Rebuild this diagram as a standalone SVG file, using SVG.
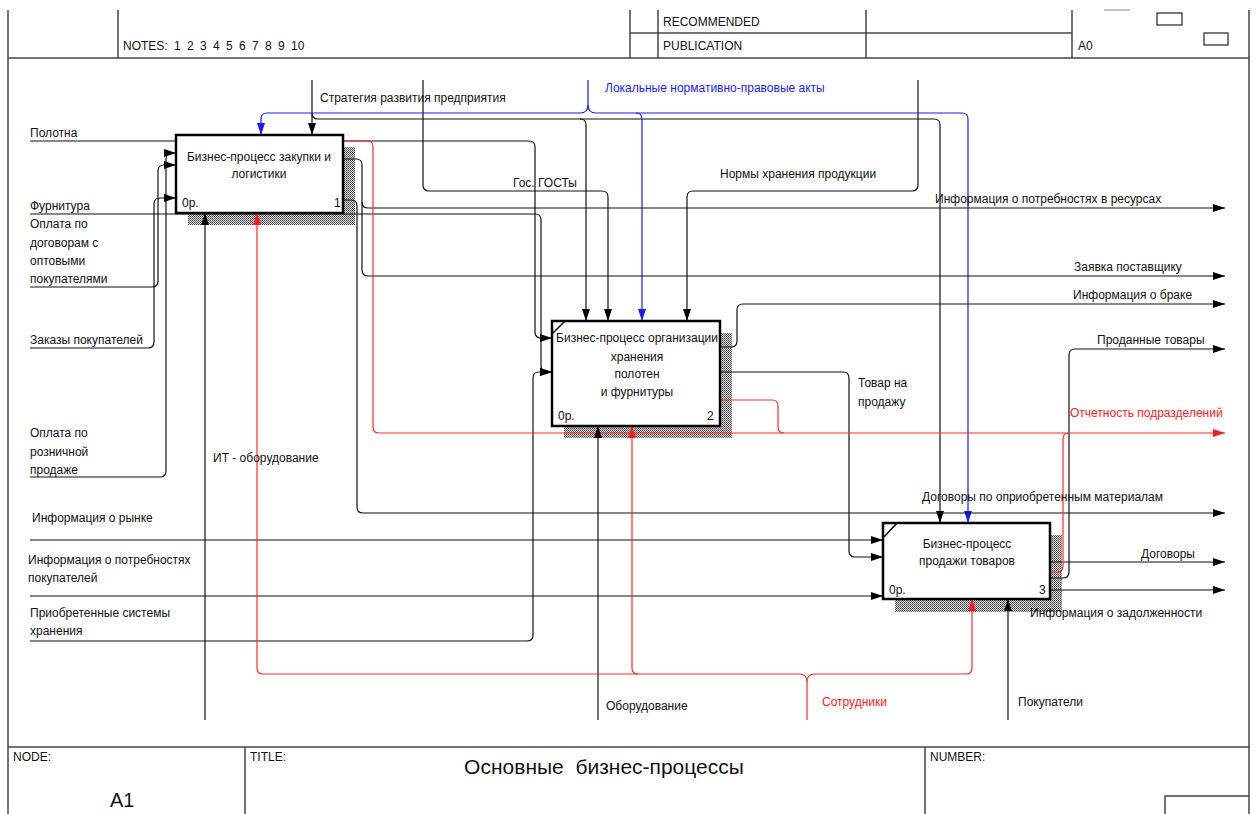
<svg xmlns="http://www.w3.org/2000/svg" width="1258" height="814" viewBox="0 0 1258 814">
<style>
.t{font-family:"Liberation Sans",Arial,sans-serif;font-size:12px;fill:#111}
.tb{fill:#1a1aff}
.tr{fill:#ff2020}
.c{fill:none;stroke:#111;stroke-width:1.2}
.cb{fill:none;stroke:#1a1aff;stroke-width:1.2}
.cr{fill:none;stroke:#ff2a2a;stroke-width:1.2}
.f{fill:none;stroke:#444;stroke-width:1.5}
.box{fill:#fff;stroke:#000;stroke-width:2.5}
.sh{fill:url(#hatch)}
.mid{text-anchor:middle}
</style>
<defs>
<pattern id="hatch" width="2" height="2" patternUnits="userSpaceOnUse"><rect width="2" height="2" fill="#dcdcdc"/><rect x="0" y="0" width="1" height="1" fill="#3c3c3c"/><rect x="1" y="1" width="1" height="1" fill="#6a6a6a"/></pattern>
<marker id="ak" viewBox="0 0 12 8" refX="12" refY="4" markerWidth="12" markerHeight="8" markerUnits="userSpaceOnUse" orient="auto"><path d="M0,0 L12,4 L0,8 z" fill="#000"/></marker>
<marker id="abl" viewBox="0 0 12 8" refX="12" refY="4" markerWidth="12" markerHeight="8" markerUnits="userSpaceOnUse" orient="auto"><path d="M0,0 L12,4 L0,8 z" fill="#1a1aff"/></marker>
<marker id="ar" viewBox="0 0 12 8" refX="12" refY="4" markerWidth="12" markerHeight="8" markerUnits="userSpaceOnUse" orient="auto"><path d="M0,0 L12,4 L0,8 z" fill="#ff1a1a"/></marker>
</defs>
<rect width="1258" height="814" fill="#fff"/>
<g id="frame">
<line class="f" x1="8" y1="10" x2="8" y2="814"/>
<line class="f" x1="1249" y1="10" x2="1249" y2="814"/>
<line class="f" x1="118" y1="10" x2="118" y2="58"/>
<line class="f" x1="630" y1="10" x2="630" y2="58"/>
<line class="f" x1="658" y1="10" x2="658" y2="58"/>
<line class="f" x1="866" y1="10" x2="866" y2="58"/>
<line class="f" x1="1072" y1="10" x2="1072" y2="58"/>
<line class="f" x1="630" y1="33" x2="1072" y2="33"/>
<line class="f" x1="8" y1="58" x2="1249" y2="58"/>
<line x1="1104" y1="10" x2="1130" y2="10" stroke="#888" stroke-width="1"/>
<rect x="1157" y="13" width="25" height="12" fill="none" stroke="#222" stroke-width="1.2"/>
<rect x="1204" y="33" width="24" height="12" fill="none" stroke="#222" stroke-width="1.2"/>
<text class="t" x="123" y="50" word-spacing="3">NOTES: 1 2 3 4 5 6 7 8 9 10</text>
<text class="t" x="663" y="26">RECOMMENDED</text>
<text class="t" x="663" y="50">PUBLICATION</text>
<text class="t" x="1078" y="50">A0</text>
<line class="f" x1="8" y1="747" x2="1249" y2="747"/>
<line class="f" x1="245" y1="747" x2="245" y2="814"/>
<line class="f" x1="925" y1="747" x2="925" y2="814"/>
<polyline class="f" points="1165,814 1165,796 1249,796"/>
<text class="t" x="13" y="761">NODE:</text>
<text class="t" x="250" y="761">TITLE:</text>
<text class="t" x="930" y="761">NUMBER:</text>
<text class="t" x="604" y="774" text-anchor="middle" style="font-size:21px">Основные&#160; бизнес-процессы</text>
<text class="t" x="110" y="807" style="font-size:20px">A1</text>
</g>
<g id="shadows">
<rect class="sh" x="188" y="147" width="167" height="78"/>
<rect class="sh" x="564" y="333" width="168" height="105"/>
<rect class="sh" x="895" y="535" width="167" height="77"/>
</g>
<g id="connectors">
<path class="c" d="M30,141 H529 Q535,141 535,147 V332 Q535,338 541,338 H552" marker-end="url(#ak)"/>
<path class="c" d="M30,214 H535 Q541,214 541,220 V366 Q541,372 547,372 H552" marker-end="url(#ak)"/>
<path class="c" d="M30,641 H527 Q533,641 533,635 V378 Q533,372 539,372 H552" marker-end="url(#ak)"/>
<path class="c" d="M30,287 H152 Q158,287 158,281 V171 Q158,165 164,165 H176" marker-end="url(#ak)"/>
<path class="c" d="M30,348 H148 Q154,348 154,342 V204 Q154,198 160,198 H176" marker-end="url(#ak)"/>
<path class="c" d="M30,477 H160 Q166,477 166,471 V159 Q166,153 172,153 H176" marker-end="url(#ak)"/>
<path class="c" d="M30,540 H883" marker-end="url(#ak)"/>
<path class="c" d="M30,596 H883" marker-end="url(#ak)"/>
<path class="c" d="M312,80 V135" marker-end="url(#ak)"/>
<path class="c" d="M312,113 Q312,119 318,119 H934 Q940,119 940,125 V523" marker-end="url(#ak)"/>
<path class="c" d="M580,119 Q586,119 586,125 V321" marker-end="url(#ak)"/>
<path class="c" d="M423,80 V185 Q423,191 429,191 H602 Q608,191 608,197 V321" marker-end="url(#ak)"/>
<path class="c" d="M918,80 V185 Q918,191 912,191 H693 Q687,191 687,197 V321" marker-end="url(#ak)"/>
<path class="cb" d="M588,80 V105 Q588,113 580,113 H267 Q261,113 261,119 V135" marker-end="url(#abl)"/>
<path class="cb" d="M588,105 Q588,113 596,113 H962 Q968,113 968,119 V523" marker-end="url(#abl)"/>
<path class="cb" d="M636,113 Q642,113 642,119 V321" marker-end="url(#abl)"/>
<path class="c" d="M343,159 H356 Q362,159 362,165 V202 Q362,208 368,208 H1225" marker-end="url(#ak)"/>
<path class="c" d="M362,202 V270 Q362,276 368,276 H1225" marker-end="url(#ak)"/>
<path class="c" d="M343,200 H351 Q357,200 357,206 V507 Q357,513 363,513 H1225" marker-end="url(#ak)"/>
<path class="c" d="M720,347 H731 Q737,347 737,341 V310 Q737,304 743,304 H1225" marker-end="url(#ak)"/>
<path class="c" d="M720,372 H843 Q849,372 849,378 V551 Q849,557 855,557 H883" marker-end="url(#ak)"/>
<path class="c" d="M1050,562 H1225" marker-end="url(#ak)"/>
<path class="c" d="M1050,578 H1063 Q1069,578 1069,572 V355 Q1069,349 1075,349 H1225" marker-end="url(#ak)"/>
<path class="c" d="M1050,590 H1225" marker-end="url(#ak)"/>
<path class="cr" d="M343,141 H367 Q373,141 373,147 V427 Q373,433 379,433 H1225" marker-end="url(#ar)"/>
<path class="cr" d="M720,400 H772 Q778,400 778,406 V427 Q778,433 784,433"/>
<path class="cr" d="M1050,572 H1057 Q1063,572 1063,566 V439 Q1063,433 1069,433"/>
<path class="c" d="M205,720 V213" marker-end="url(#ak)"/>
<path class="c" d="M598,720 V426" marker-end="url(#ak)"/>
<path class="c" d="M1008,720 V599" marker-end="url(#ak)"/>
<path class="cr" d="M807,720 V682 Q807,674 799,674 H263 Q257,674 257,668 V213" marker-end="url(#ar)"/>
<path class="cr" d="M807,682 Q807,674 815,674 H966 Q972,674 972,668 V599" marker-end="url(#ar)"/>
<path class="cr" d="M638,674 Q632,674 632,668 V426" marker-end="url(#ar)"/>
</g>
<g id="labels">
<text class="t" x="30" y="137">Полотна</text>
<text class="t" x="30" y="210">Фурнитура</text>
<text class="t" x="30" y="228">Оплата по</text>
<text class="t" x="30" y="247">договорам с</text>
<text class="t" x="30" y="265">оптовыми</text>
<text class="t" x="30" y="283">покупателями</text>
<text class="t" x="30" y="344">Заказы покупателей</text>
<text class="t" x="30" y="437">Оплата по</text>
<text class="t" x="30" y="456">розничной</text>
<text class="t" x="30" y="474">продаже</text>
<text class="t" x="32" y="522">Информация о рынке</text>
<text class="t" x="28" y="564">Информация о потребностях</text>
<text class="t" x="28" y="582">покупателей</text>
<text class="t" x="30" y="617">Приобретенные системы</text>
<text class="t" x="30" y="635">хранения</text>
<text class="t" x="320" y="102">Стратегия развития предприятия</text>
<text class="t tb" x="605" y="92">Локальные нормативно-правовые акты</text>
<text class="t" x="513" y="187">Гос. ГОСТы</text>
<text class="t" x="720" y="178">Нормы хранения продукции</text>
<text class="t" x="935" y="203">Информация о потребностях в ресурсах</text>
<text class="t" x="1074" y="271">Заявка поставщику</text>
<text class="t" x="1073" y="299">Информация о браке</text>
<text class="t" x="1097" y="344">Проданные товары</text>
<text class="t tr" x="1070" y="417">Отчетность подразделений</text>
<text class="t" x="922" y="501">Договоры по оприобретенным материалам</text>
<text class="t" x="1141" y="558">Договоры</text>
<text class="t" x="1030" y="617">Информация о задолженности</text>
<text class="t" x="858" y="387">Товар на</text>
<text class="t" x="858" y="406">продажу</text>
<text class="t" x="213" y="462">ИТ - оборудование</text>
<text class="t" x="606" y="710">Оборудование</text>
<text class="t tr" x="822" y="706">Сотрудники</text>
<text class="t" x="1018" y="706">Покупатели</text>
</g>
<g id="node1">
<rect class="box" x="176" y="135" width="167" height="78"/>
<text class="t mid" x="259" y="161">Бизнес-процесс закупки и</text>
<text class="t mid" x="259" y="178">логистики</text>
<text class="t" x="182" y="207">0р.</text>
<text class="t" x="334" y="207">1</text>
</g>
<g id="node2">
<rect class="box" x="552" y="321" width="168" height="105"/>
<line x1="553" y1="333" x2="565" y2="321" stroke="#000" stroke-width="1.5"/>
<text class="t mid" x="637" y="342">Бизнес-процесс организации</text>
<text class="t mid" x="637" y="361">хранения</text>
<text class="t mid" x="637" y="378">полотен</text>
<text class="t mid" x="637" y="396">и фурнитуры</text>
<text class="t" x="558" y="420">0р.</text>
<text class="t" x="707" y="420">2</text>
</g>
<g id="node3">
<rect class="box" x="883" y="523" width="167" height="76"/>
<line x1="884" y1="537" x2="897" y2="523" stroke="#000" stroke-width="1.5"/>
<text class="t mid" x="967" y="548">Бизнес-процесс</text>
<text class="t mid" x="967" y="565">продажи товаров</text>
<text class="t" x="889" y="594">0р.</text>
<text class="t" x="1039" y="594">3</text>
</g>
</svg>
